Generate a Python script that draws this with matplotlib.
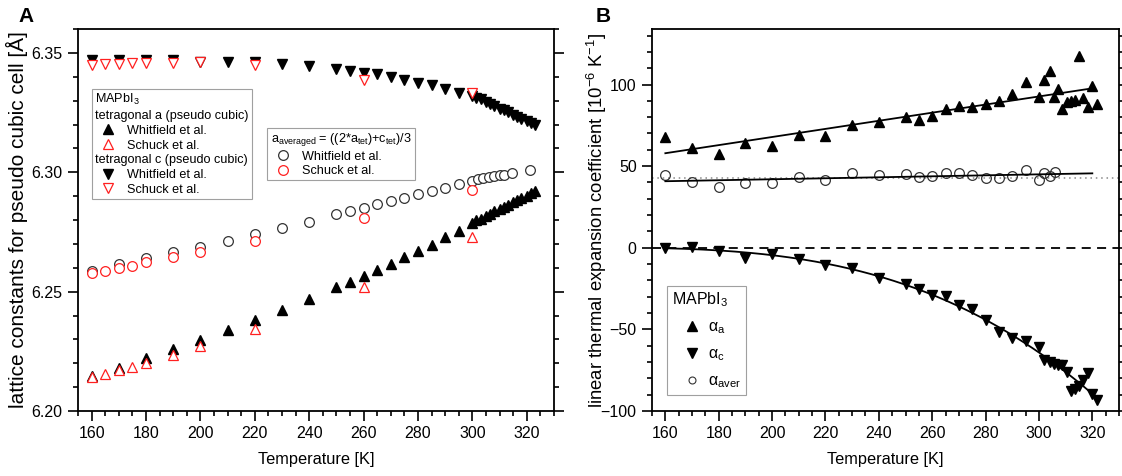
import numpy as np
import matplotlib.pyplot as plt
from matplotlib.lines import Line2D
from matplotlib.ticker import MultipleLocator

plt.rcParams['font.family'] = ['Liberation Sans', 'DejaVu Sans']
plt.rcParams['mathtext.fontset'] = 'custom'
plt.rcParams['mathtext.rm'] = 'Liberation Sans'
plt.rcParams['mathtext.it'] = 'Liberation Sans:italic'
plt.rcParams['mathtext.bf'] = 'Liberation Sans:bold'

# --- Panel A: Gitterkonstanten ---
T_whit = [160, 170, 180, 190, 200, 210, 220, 230, 240, 250, 255, 260, 265, 270,
          275, 280, 285, 290, 295, 300, 301.5, 303, 305, 306.5, 308, 310, 311.5,
          313, 315, 316.5, 318, 320, 321.5, 323]
a_whit = [6.2145, 6.2181, 6.2223, 6.2258, 6.2299, 6.2338, 6.2380, 6.2424, 6.2469,
          6.2519, 6.2541, 6.2566, 6.2591, 6.2616, 6.2644, 6.2672, 6.2697, 6.2728,
          6.2755, 6.2789, 6.2798, 6.2806, 6.2818, 6.2826, 6.2836, 6.2846, 6.2855,
          6.2864, 6.2874, 6.2883, 6.2891, 6.2902, 6.2911, 6.2920]
c_whit = [6.3470, 6.3470, 6.3470, 6.3469, 6.3461, 6.3461, 6.3460, 6.3452, 6.3445,
          6.3431, 6.3424, 6.3417, 6.3410, 6.3399, 6.3387, 6.3375, 6.3364, 6.3348,
          6.3334, 6.3320, 6.3313, 6.3305, 6.3295, 6.3287, 6.3278, 6.3267, 6.3259,
          6.3251, 6.3240, 6.3232, 6.3224, 6.3213, 6.3205, 6.3197]
T_whit_aver = [160, 170, 180, 190, 200, 210, 220, 230, 240, 250, 255, 260, 265,
               270, 275, 280, 285, 290, 295, 300, 302, 304, 306, 308, 310, 311.6,
               314.4, 321]
aver_whit = [6.2587, 6.2615, 6.2640, 6.2665, 6.2689, 6.2712, 6.2740, 6.2765,
             6.2793, 6.2824, 6.2838, 6.2849, 6.2866, 6.2879, 6.2892, 6.2907,
             6.2921, 6.2932, 6.2949, 6.2963, 6.2970, 6.2975, 6.2979, 6.2984,
             6.2987, 6.2989, 6.2996, 6.3010]

T_schuck = [160, 165, 170, 175, 180, 190, 200, 220, 260, 300]
a_schuck = [6.2144, 6.2153, 6.2170, 6.2185, 6.2202, 6.2234, 6.2271, 6.2344, 6.2519, 6.2728]
c_schuck = [6.3451, 6.3455, 6.3455, 6.3457, 6.3457, 6.3457, 6.3460, 6.3451, 6.3387, 6.3331]
aver_schuck = [6.2578, 6.2587, 6.2598, 6.2608, 6.2622, 6.2647, 6.2668, 6.2710, 6.2807, 6.2925]

# --- Panel B: Ausdehnungskoeffizienten ---
T_alpha = [160, 170, 180, 190, 200, 210, 220, 230, 240, 250, 255, 260, 265, 270,
           275, 280, 285, 290, 295, 300, 302, 304, 305.5, 307, 308.8, 310.6, 312,
           313.5, 315, 316.5, 318.2, 320, 321.8]
alpha_a = [67.7, 61.2, 57.5, 64.0, 62.6, 69.3, 68.3, 75.3, 76.9, 79.9, 78.3, 81.0,
           85.1, 87.1, 86.5, 88.1, 90.2, 94.2, 101.5, 92.6, 102.8, 108.1, 92.2,
           97.3, 85.1, 89.1, 90.1, 90.6, 117.7, 91.8, 86.0, 98.9, 88.1]
alpha_c = [0.0, 0.4, -1.7, -6.1, -3.7, -6.7, -10.4, -12.2, -18.4, -22.0, -25.1,
           -29.2, -29.8, -35.3, -37.8, -44.1, -51.7, -55.1, -57.0, -60.8, -69.0,
           -70.0, -71.4, -72.0, -72.0, -76.1, -87.8, -86.3, -84.9, -81.2, -76.5,
           -89.4, -93.0]
T_alpha_aver = [160, 170, 180, 190, 200, 210, 220, 230, 240, 250, 255, 260, 265,
                270, 275, 280, 285, 290, 295, 300, 302, 304, 306]
alpha_aver = [44.7, 40.1, 37.5, 39.8, 39.8, 43.6, 41.6, 45.7, 44.7, 44.9, 43.2,
              43.8, 45.7, 45.7, 44.7, 42.8, 42.6, 43.7, 47.7, 41.2, 45.7, 43.8, 46.3]
AVER_REF = 42.8  # gepunktete Linie

RED = '#ff2020'

fig = plt.figure(figsize=(11.22, 4.76), dpi=100)
axA = fig.add_axes([78 / 1122, 65 / 476, 476 / 1122, 382 / 476])
axB = fig.add_axes([652 / 1122, 65 / 476, 467 / 1122, 382 / 476])

tri = dict(linestyle='none', ms=7.5)

# --- Panel A ---
axA.plot(T_whit, a_whit, marker='^', color='black', **tri)
axA.plot(T_whit, c_whit, marker='v', color='black', **tri)
axA.plot(T_whit_aver, aver_whit, marker='o', color='#333333', mfc='white',
         mew=0.9, linestyle='none', ms=7)
axA.plot(T_schuck, a_schuck, marker='^', color=RED, mfc='white', mew=0.9, **tri)
axA.plot(T_schuck, c_schuck, marker='v', color=RED, mfc='white', mew=0.9, **tri)
axA.plot(T_schuck, aver_schuck, marker='o', color=RED, mfc='white', mew=0.9,
         linestyle='none', ms=7)

axA.set_xlim(155, 330)
axA.set_ylim(6.20, 6.36)
axA.xaxis.set_major_locator(MultipleLocator(20))
axA.xaxis.set_minor_locator(MultipleLocator(5))
axA.yaxis.set_major_locator(MultipleLocator(0.05))
axA.yaxis.set_minor_locator(MultipleLocator(0.01))
axA.yaxis.set_major_formatter(plt.FormatStrFormatter('%.2f'))
axA.set_xlabel('Temperature [K]', fontsize=11.8, labelpad=8)
axA.set_ylabel('lattice constants for pseudo cubic cell [Å]', fontsize=15)
axA.yaxis.set_label_coords(-0.106, 0.5)


def blank():
    return Line2D([], [], linestyle='none')


def left_headers(leg, headers):
    # Ueberschriften ohne Marker-Platz linksbuendig setzen
    for col in leg._legend_handle_box.get_children():
        for row in col.get_children():
            hbox, tbox = row.get_children()
            if tbox.get_text() in headers:
                hbox.width = 0
                row.sep = 0


hdrA = ['MAPbI$_\\mathregular{3}$', 'tetragonal a (pseudo cubic)', 'tetragonal c (pseudo cubic)']
handlesA = [blank(), blank(),
            Line2D([], [], marker='^', color='black', **tri),
            Line2D([], [], marker='^', color=RED, mfc='white', mew=0.9, **tri),
            blank(),
            Line2D([], [], marker='v', color='black', **tri),
            Line2D([], [], marker='v', color=RED, mfc='white', mew=0.9, **tri)]
labelsA = [hdrA[0], hdrA[1], 'Whitfield et al.', 'Schuck et al.', hdrA[2],
           'Whitfield et al.', 'Schuck et al.']
legA = axA.legend(handlesA, labelsA, loc='upper left', bbox_to_anchor=(0.030, 0.843),
                  borderaxespad=0, fontsize=9.1, handlelength=2.0, handletextpad=0.5,
                  borderpad=0.25, labelspacing=0.22, fancybox=False,
                  edgecolor='#a0a0a0', framealpha=1)
legA.get_frame().set_linewidth(0.8)
left_headers(legA, hdrA)
axA.add_artist(legA)

hdrA2 = ['a$_\\mathregular{averaged}$ = ((2*a$_\\mathregular{tet}$)+c$_\\mathregular{tet}$)/3']
handlesA2 = [blank(),
             Line2D([], [], marker='o', color='#333333', mfc='white', mew=0.9, linestyle='none', ms=7),
             Line2D([], [], marker='o', color=RED, mfc='white', mew=0.9, linestyle='none', ms=7)]
legA2 = axA.legend(handlesA2, [hdrA2[0], 'Whitfield et al.', 'Schuck et al.'],
                   loc='upper left', bbox_to_anchor=(0.398, 0.741), borderaxespad=0,
                   fontsize=9.1, handlelength=2.0, handletextpad=0.5, borderpad=0.25,
                   labelspacing=0.2, fancybox=False, edgecolor='#a0a0a0', framealpha=1)
legA2.get_frame().set_linewidth(0.8)
left_headers(legA2, hdrA2)

# --- Panel B ---
fit_T = np.array([160, 320])
pa = np.polyfit(T_alpha, alpha_a, 1)
pv = np.polyfit(T_alpha_aver, alpha_aver, 1)
pc = np.polyfit(T_alpha, alpha_c, 3)
T_curve = np.linspace(160, 322, 200)

axB.axhline(0, color='black', linestyle=(0, (5, 3.5)), lw=1.3, zorder=1)
axB.axhline(AVER_REF, color='#888888', linestyle=(0, (1, 2.5)), lw=1.1, zorder=1)
axB.plot(T_alpha, alpha_a, marker='^', color='black', **tri)
axB.plot(T_alpha, alpha_c, marker='v', color='black', **tri)
axB.plot(T_alpha_aver, alpha_aver, marker='o', color='#333333', mfc='none',
         mew=0.9, linestyle='none', ms=7)
axB.plot(fit_T, np.polyval(pa, fit_T), color='black', lw=1.3)
axB.plot(fit_T, np.polyval(pv, fit_T), color='black', lw=1.3)
axB.plot(T_curve, np.polyval(pc, T_curve), color='black', lw=1.3)

axB.set_xlim(155, 330)
axB.set_ylim(-100, 134)
axB.xaxis.set_major_locator(MultipleLocator(20))
axB.xaxis.set_minor_locator(MultipleLocator(5))
axB.yaxis.set_major_locator(MultipleLocator(50))
axB.yaxis.set_minor_locator(MultipleLocator(10))
axB.set_xlabel('Temperature [K]', fontsize=11.8, labelpad=8)
axB.set_ylabel('linear thermal expansion coefficient [10$^\\mathregular{-6}$ K$^\\mathregular{-1}$]',
               fontsize=13.3)
axB.yaxis.set_label_coords(-0.092, 0.5)

hdrB = ['MAPbI$_\\mathregular{3}$']
handlesB = [blank(),
            Line2D([], [], marker='^', color='black', **tri),
            Line2D([], [], marker='v', color='black', **tri),
            Line2D([], [], marker='o', color='#333333', mfc='none', mew=0.8, linestyle='none', ms=5)]
labelsB = [hdrB[0], 'α$_\\mathregular{a}$', 'α$_\\mathregular{c}$', 'α$_\\mathregular{aver}$']
legB = axB.legend(handlesB, labelsB, loc='upper left', bbox_to_anchor=(0.033, 0.328),
                  borderaxespad=0, fontsize=11.5, handlelength=2.5, handletextpad=-0.25,
                  borderpad=0.3, labelspacing=0.65, fancybox=False,
                  edgecolor='#a0a0a0', framealpha=1)
legB.get_frame().set_linewidth(0.8)
left_headers(legB, hdrB)

for ax in (axA, axB):
    for sp in ax.spines.values():
        sp.set_linewidth(1.3)
    ax.tick_params(which='both', direction='out', right=True, top=False,
                   labelsize=11.5, width=1.2, pad=4)
    ax.tick_params(which='major', length=7)
    ax.tick_params(which='minor', length=3.5)

fig.text(18 / 1122, 1 - 17 / 476, 'A', fontsize=15, fontweight='bold', va='center')
fig.text(596 / 1122, 1 - 17 / 476, 'B', fontsize=15, fontweight='bold', va='center')

fig.savefig('out.png', dpi=100)
